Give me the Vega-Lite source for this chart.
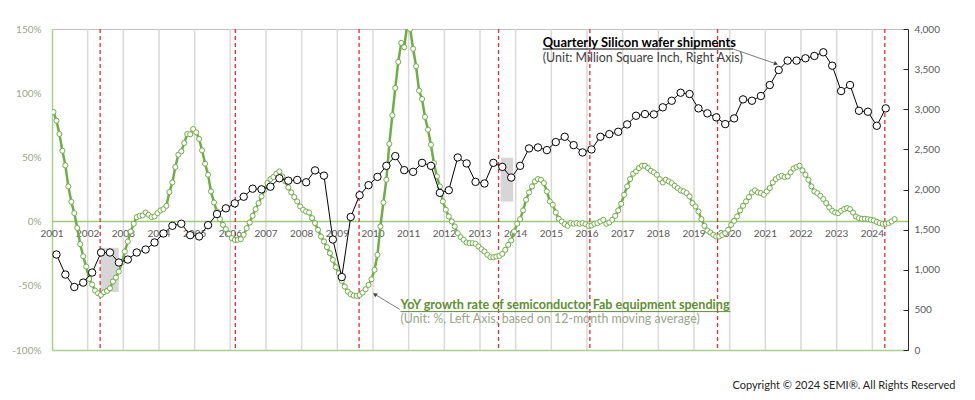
{
"$schema":"https://vega.github.io/schema/vega-lite/v6.json",
"width":856,"height":321,
"autosize":{"type":"none"},
"padding":{"left":52,"top":29,"right":67,"bottom":50},
"background":"white",
"config":{"font":"Lato","view":{"stroke":"#bfbfbf","strokeWidth":1}},
"title":{"text":"Copyright © 2024 SEMI®. All Rights Reserved","orient":"bottom","anchor":"end","fontSize":11,"fontWeight":"normal","color":"#262626","offset":25,"dx":16,"font":"Lato"},
"datasets":{
"years":[{"t":2001},{"t":2002},{"t":2003},{"t":2004},{"t":2005},{"t":2006},{"t":2007},{"t":2008},{"t":2009},{"t":2010},{"t":2011},{"t":2012},{"t":2013},{"t":2014},{"t":2015},{"t":2016},{"t":2017},{"t":2018},{"t":2019},{"t":2020},{"t":2021},{"t":2022},{"t":2023},{"t":2024}],
"fab":[
{"t":2001.042,"v":85.4},{"t":2001.125,"v":78.6},{"t":2001.208,"v":68.2},{"t":2001.292,"v":55.2},{"t":2001.375,"v":43.8},{"t":2001.458,"v":27.4},{"t":2001.542,"v":15.4},{"t":2001.625,"v":6.6},{"t":2001.708,"v":-5},{"t":2001.792,"v":-17.6},{"t":2001.875,"v":-27},{"t":2001.958,"v":-35},
{"t":2002.042,"v":-44.6},{"t":2002.125,"v":-49},{"t":2002.208,"v":-53.7},{"t":2002.292,"v":-55.8},{"t":2002.375,"v":-57.1},{"t":2002.458,"v":-55},{"t":2002.542,"v":-54},{"t":2002.625,"v":-51.9},{"t":2002.708,"v":-46.7},{"t":2002.792,"v":-43.6},{"t":2002.875,"v":-38.9},{"t":2002.958,"v":-31.9},
{"t":2003.042,"v":-23.3},{"t":2003.125,"v":-15.5},{"t":2003.208,"v":-7.7},{"t":2003.292,"v":-1.7},{"t":2003.375,"v":3.5},{"t":2003.458,"v":4.5},{"t":2003.542,"v":4.8},{"t":2003.625,"v":7.1},{"t":2003.708,"v":5.3},{"t":2003.792,"v":3.5},{"t":2003.875,"v":4},{"t":2003.958,"v":6.6},
{"t":2004.042,"v":8.7},{"t":2004.125,"v":9.7},{"t":2004.208,"v":12.3},{"t":2004.292,"v":23},{"t":2004.375,"v":30.5},{"t":2004.458,"v":42.5},{"t":2004.542,"v":52.1},{"t":2004.625,"v":54.7},{"t":2004.708,"v":61.2},{"t":2004.792,"v":68.2},{"t":2004.875,"v":68},{"t":2004.958,"v":72.1},
{"t":2005.042,"v":69.5},{"t":2005.125,"v":64.4},{"t":2005.208,"v":55.5},{"t":2005.292,"v":45.1},{"t":2005.375,"v":36.5},{"t":2005.458,"v":23.5},{"t":2005.542,"v":14.9},{"t":2005.625,"v":7.9},{"t":2005.708,"v":1.9},{"t":2005.792,"v":-2.5},{"t":2005.875,"v":-5.9},{"t":2005.958,"v":-9.5},
{"t":2006.042,"v":-12.9},{"t":2006.125,"v":-14.2},{"t":2006.208,"v":-14.2},{"t":2006.292,"v":-13.7},{"t":2006.375,"v":-10.3},{"t":2006.458,"v":-5.1},{"t":2006.542,"v":-0.7},{"t":2006.625,"v":4.5},{"t":2006.708,"v":9.7},{"t":2006.792,"v":14.4},{"t":2006.875,"v":19.6},{"t":2006.958,"v":24.8},
{"t":2007.042,"v":30},{"t":2007.125,"v":33.1},{"t":2007.208,"v":34.7},{"t":2007.292,"v":37.3},{"t":2007.375,"v":39.1},{"t":2007.458,"v":35.2},{"t":2007.542,"v":31.3},{"t":2007.625,"v":26.6},{"t":2007.708,"v":22.7},{"t":2007.792,"v":19.1},{"t":2007.875,"v":15.7},{"t":2007.958,"v":11.8},
{"t":2008.042,"v":9.2},{"t":2008.125,"v":7.9},{"t":2008.208,"v":7.1},{"t":2008.292,"v":2.7},{"t":2008.375,"v":-1.2},{"t":2008.458,"v":-6.4},{"t":2008.542,"v":-11.6},{"t":2008.625,"v":-15.5},{"t":2008.708,"v":-19.9},{"t":2008.792,"v":-24.6},{"t":2008.875,"v":-29.8},{"t":2008.958,"v":-35.5},
{"t":2009.042,"v":-40.2},{"t":2009.125,"v":-46.2},{"t":2009.208,"v":-50.6},{"t":2009.292,"v":-54.5},{"t":2009.375,"v":-56.6},{"t":2009.458,"v":-57.6},{"t":2009.542,"v":-57.9},{"t":2009.625,"v":-57.1},{"t":2009.708,"v":-55.3},{"t":2009.792,"v":-52.7},{"t":2009.875,"v":-49.3},{"t":2009.958,"v":-44.9},
{"t":2010.042,"v":-37.6},{"t":2010.125,"v":-25.9},{"t":2010.208,"v":-3.8},{"t":2010.292,"v":14.9},{"t":2010.375,"v":32.6},{"t":2010.458,"v":60.5},{"t":2010.542,"v":82.8},{"t":2010.625,"v":104.1},{"t":2010.708,"v":124.4},{"t":2010.792,"v":139.2},{"t":2010.875,"v":135.8},{"t":2010.958,"v":153},
{"t":2011.042,"v":150},{"t":2011.125,"v":134.6},{"t":2011.208,"v":121},{"t":2011.292,"v":102},{"t":2011.375,"v":95.5},{"t":2011.458,"v":81.5},{"t":2011.542,"v":71.6},{"t":2011.625,"v":59.9},{"t":2011.708,"v":45.6},{"t":2011.792,"v":35.2},{"t":2011.875,"v":27.4},{"t":2011.958,"v":15.7},
{"t":2012.042,"v":9.2},{"t":2012.125,"v":4},{"t":2012.208,"v":0.1},{"t":2012.292,"v":-3.8},{"t":2012.375,"v":-9},{"t":2012.458,"v":-12.1},{"t":2012.542,"v":-14.2},{"t":2012.625,"v":-16.3},{"t":2012.708,"v":-16.8},{"t":2012.792,"v":-16.8},{"t":2012.875,"v":-17.3},{"t":2012.958,"v":-19.4},
{"t":2013.042,"v":-21.5},{"t":2013.125,"v":-23.3},{"t":2013.208,"v":-25.9},{"t":2013.292,"v":-27.7},{"t":2013.375,"v":-27.7},{"t":2013.458,"v":-27.2},{"t":2013.542,"v":-26.7},{"t":2013.625,"v":-25.1},{"t":2013.708,"v":-22},{"t":2013.792,"v":-18.1},{"t":2013.875,"v":-14.7},{"t":2013.958,"v":-7.7},
{"t":2014.042,"v":-1.7},{"t":2014.125,"v":1.9},{"t":2014.208,"v":8.7},{"t":2014.292,"v":17},{"t":2014.375,"v":22.7},{"t":2014.458,"v":27.4},{"t":2014.542,"v":31.3},{"t":2014.625,"v":33.1},{"t":2014.708,"v":32.6},{"t":2014.792,"v":30},{"t":2014.875,"v":23.5},{"t":2014.958,"v":15.7},
{"t":2015.042,"v":13.1},{"t":2015.125,"v":7.1},{"t":2015.208,"v":2.2},{"t":2015.292,"v":0.1},{"t":2015.375,"v":-2},{"t":2015.458,"v":-3.3},{"t":2015.542,"v":-1.2},{"t":2015.625,"v":-1.7},{"t":2015.708,"v":-1.2},{"t":2015.792,"v":-1.7},{"t":2015.875,"v":-1.2},{"t":2015.958,"v":-2},
{"t":2016.042,"v":-3.3},{"t":2016.125,"v":-3},{"t":2016.208,"v":-1.7},{"t":2016.292,"v":-1.2},{"t":2016.375,"v":0.1},{"t":2016.458,"v":1.4},{"t":2016.542,"v":-1.7},{"t":2016.625,"v":-0.7},{"t":2016.708,"v":1.4},{"t":2016.792,"v":4.5},{"t":2016.875,"v":8.7},{"t":2016.958,"v":13.9},
{"t":2017.042,"v":20.9},{"t":2017.125,"v":27.4},{"t":2017.208,"v":33.1},{"t":2017.292,"v":37.3},{"t":2017.375,"v":39.1},{"t":2017.458,"v":41.7},{"t":2017.542,"v":43.5},{"t":2017.625,"v":43.5},{"t":2017.708,"v":41.7},{"t":2017.792,"v":39.6},{"t":2017.875,"v":38.3},{"t":2017.958,"v":36.5},
{"t":2018.042,"v":33.1},{"t":2018.125,"v":30.5},{"t":2018.208,"v":32.6},{"t":2018.292,"v":31.3},{"t":2018.375,"v":30},{"t":2018.458,"v":27.9},{"t":2018.542,"v":26.1},{"t":2018.625,"v":24.3},{"t":2018.708,"v":23.5},{"t":2018.792,"v":22.2},{"t":2018.875,"v":19.6},{"t":2018.958,"v":14.4},
{"t":2019.042,"v":11.8},{"t":2019.125,"v":7.9},{"t":2019.208,"v":1.9},{"t":2019.292,"v":-3.3},{"t":2019.375,"v":-6.9},{"t":2019.458,"v":-8.5},{"t":2019.542,"v":-10.3},{"t":2019.625,"v":-11.6},{"t":2019.708,"v":-11.6},{"t":2019.792,"v":-10.5},{"t":2019.875,"v":-9},{"t":2019.958,"v":-6.4},
{"t":2020.042,"v":-2.5},{"t":2020.125,"v":0.6},{"t":2020.208,"v":4},{"t":2020.292,"v":8.7},{"t":2020.375,"v":12.3},{"t":2020.458,"v":15.7},{"t":2020.542,"v":19.1},{"t":2020.625,"v":22.7},{"t":2020.708,"v":24.3},{"t":2020.792,"v":22.7},{"t":2020.875,"v":22.2},{"t":2020.958,"v":20.9},
{"t":2021.042,"v":23.5},{"t":2021.125,"v":26.1},{"t":2021.208,"v":30.5},{"t":2021.292,"v":33.1},{"t":2021.375,"v":34.7},{"t":2021.458,"v":35.7},{"t":2021.542,"v":34.7},{"t":2021.625,"v":35.2},{"t":2021.708,"v":38.3},{"t":2021.792,"v":41.4},{"t":2021.875,"v":42.5},{"t":2021.958,"v":43.5},
{"t":2022.042,"v":39.9},{"t":2022.125,"v":36.5},{"t":2022.208,"v":32.6},{"t":2022.292,"v":27.4},{"t":2022.375,"v":23.5},{"t":2022.458,"v":22.2},{"t":2022.542,"v":20.1},{"t":2022.625,"v":17.5},{"t":2022.708,"v":14.4},{"t":2022.792,"v":11},{"t":2022.875,"v":8.4},{"t":2022.958,"v":7.1},
{"t":2023.042,"v":6.6},{"t":2023.125,"v":8.4},{"t":2023.208,"v":9.7},{"t":2023.292,"v":10.5},{"t":2023.375,"v":9.7},{"t":2023.458,"v":7.1},{"t":2023.542,"v":4},{"t":2023.625,"v":2.7},{"t":2023.708,"v":2.2},{"t":2023.792,"v":2.2},{"t":2023.875,"v":1.9},{"t":2023.958,"v":1.4},
{"t":2024.042,"v":0.9},{"t":2024.125,"v":-0.2},{"t":2024.208,"v":-1.2},{"t":2024.292,"v":-1.7},{"t":2024.375,"v":-1.7},{"t":2024.458,"v":-1.2},{"t":2024.542,"v":0.1},{"t":2024.625,"v":1.9}
],
"wafer":[
{"t":2001.125,"v":1190},{"t":2001.375,"v":940},{"t":2001.625,"v":785},{"t":2001.875,"v":840},
{"t":2002.125,"v":965},{"t":2002.375,"v":1215},{"t":2002.625,"v":1215},{"t":2002.875,"v":1090},
{"t":2003.125,"v":1127},{"t":2003.375,"v":1215},{"t":2003.625,"v":1252},{"t":2003.875,"v":1340},
{"t":2004.125,"v":1452},{"t":2004.375,"v":1548},{"t":2004.625,"v":1573},{"t":2004.875,"v":1431},
{"t":2005.125,"v":1415},{"t":2005.375,"v":1556},{"t":2005.625,"v":1694},{"t":2005.875,"v":1765},
{"t":2006.125,"v":1827},{"t":2006.375,"v":1910},{"t":2006.625,"v":2010},{"t":2006.875,"v":2002},
{"t":2007.125,"v":2035},{"t":2007.375,"v":2140},{"t":2007.625,"v":2110},{"t":2007.875,"v":2119},
{"t":2008.125,"v":2090},{"t":2008.375,"v":2238},{"t":2008.625,"v":2173},{"t":2008.875,"v":1377},
{"t":2009.125,"v":909},{"t":2009.375,"v":1658},{"t":2009.625,"v":1929},{"t":2009.875,"v":2054},
{"t":2010.125,"v":2157},{"t":2010.375,"v":2295},{"t":2010.625,"v":2416},{"t":2010.875,"v":2241},
{"t":2011.125,"v":2220},{"t":2011.375,"v":2332},{"t":2011.625,"v":2295},{"t":2011.875,"v":1958},
{"t":2012.125,"v":1991},{"t":2012.375,"v":2399},{"t":2012.625,"v":2325},{"t":2012.875,"v":2095},
{"t":2013.125,"v":2075},{"t":2013.375,"v":2332},{"t":2013.625,"v":2282},{"t":2013.875,"v":2149},
{"t":2014.125,"v":2295},{"t":2014.375,"v":2512},{"t":2014.625,"v":2524},{"t":2014.875,"v":2491},
{"t":2015.125,"v":2591},{"t":2015.375,"v":2657},{"t":2015.625,"v":2553},{"t":2015.875,"v":2462},
{"t":2016.125,"v":2499},{"t":2016.375,"v":2657},{"t":2016.625,"v":2690},{"t":2016.875,"v":2719},
{"t":2017.125,"v":2811},{"t":2017.375,"v":2919},{"t":2017.625,"v":2940},{"t":2017.875,"v":2936},
{"t":2018.125,"v":3024},{"t":2018.375,"v":3106},{"t":2018.625,"v":3206},{"t":2018.875,"v":3190},
{"t":2019.125,"v":3011},{"t":2019.375,"v":2949},{"t":2019.625,"v":2899},{"t":2019.875,"v":2815},
{"t":2020.125,"v":2886},{"t":2020.375,"v":3123},{"t":2020.625,"v":3106},{"t":2020.875,"v":3165},
{"t":2021.125,"v":3302},{"t":2021.375,"v":3489},{"t":2021.625,"v":3606},{"t":2021.875,"v":3606},
{"t":2022.125,"v":3635},{"t":2022.375,"v":3664},{"t":2022.625,"v":3710},{"t":2022.875,"v":3543},
{"t":2023.125,"v":3227},{"t":2023.375,"v":3302},{"t":2023.625,"v":2981},{"t":2023.875,"v":2969},
{"t":2024.125,"v":2794},{"t":2024.375,"v":3011}
]
},
"layer":[
{"layer":[
{"data":{"name":"years"},"transform":[{"filter":"datum.t > 2001"}],"mark":{"type":"rule","color":"#d9d9d9","strokeWidth":1.5},
 "encoding":{"x":{"field":"t","type":"quantitative","scale":{"domain":[2001,2025],"nice":false,"zero":false},"axis":{"orient":"bottom","labels":false,"ticks":false,"grid":false,"title":null,"domainColor":"#a9d08e","domainWidth":1.5}}}},
{"data":{"values":[{"t":2002.36,"t2":2002.87,"v":-20.4,"v2":-54.8},{"t":2013.58,"t2":2013.93,"v":49.8,"v2":15.6}]},"mark":{"type":"rect","color":"#d6d6d6"},
 "encoding":{"x":{"field":"t","type":"quantitative","scale":{"domain":[2001,2025],"nice":false,"zero":false},"axis":{"orient":"bottom","labels":false,"ticks":false,"grid":false,"title":null,"domainColor":"#a9d08e","domainWidth":1.5}},"x2":{"field":"t2"},
  "y":{"field":"v","type":"quantitative","scale":{"domain":[-100,150],"nice":false,"zero":false},"axis":{"orient":"left","values":[-100,-50,0,50,100,150],"labelExpr":"datum.value + '%'","title":null,"grid":false,"ticks":false,"domainColor":"#a9d08e","domainWidth":1.5,"labelPadding":11,"labelColor":"#9aa58a","labelFontSize":10,"labelFont":"Lato"}},"y2":{"field":"v2"}}},
{"data":{"values":[{"v":0}]},"mark":{"type":"rule","color":"#9cc97a","strokeWidth":1.5},
 "encoding":{"y":{"field":"v","type":"quantitative","scale":{"domain":[-100,150],"nice":false,"zero":false},"axis":{"orient":"left","values":[-100,-50,0,50,100,150],"labelExpr":"datum.value + '%'","title":null,"grid":false,"ticks":false,"domainColor":"#a9d08e","domainWidth":1.5,"labelPadding":11,"labelColor":"#9aa58a","labelFontSize":10,"labelFont":"Lato"}}}},
{"data":{"values":[{"t":2002.35},{"t":2006.14},{"t":2009.61},{"t":2013.52},{"t":2016.08},{"t":2019.66},{"t":2024.35}]},"mark":{"type":"rule","color":"#e0303a","strokeWidth":1.3,"strokeDash":[4,3]},
 "encoding":{"x":{"field":"t","type":"quantitative","scale":{"domain":[2001,2025],"nice":false,"zero":false},"axis":{"orient":"bottom","labels":false,"ticks":false,"grid":false,"title":null,"domainColor":"#a9d08e","domainWidth":1.5}}}},
{"data":{"name":"years"},"mark":{"type":"text","fontSize":10,"color":"#595959","dy":15.5,"baseline":"alphabetic","font":"Lato"},
 "encoding":{"x":{"field":"t","type":"quantitative","scale":{"domain":[2001,2025],"nice":false,"zero":false},"axis":{"orient":"bottom","labels":false,"ticks":false,"grid":false,"title":null,"domainColor":"#a9d08e","domainWidth":1.5}},
  "y":{"datum":0,"type":"quantitative","scale":{"domain":[-100,150],"nice":false,"zero":false},"axis":{"orient":"left","values":[-100,-50,0,50,100,150],"labelExpr":"datum.value + '%'","title":null,"grid":false,"ticks":false,"domainColor":"#a9d08e","domainWidth":1.5,"labelPadding":11,"labelColor":"#9aa58a","labelFontSize":10,"labelFont":"Lato"}},
  "text":{"field":"t","type":"quantitative","format":"d"}}},
{"data":{"name":"fab"},"mark":{"type":"line","color":"#70ad47","strokeWidth":2.5,"clip":true},
 "encoding":{"x":{"field":"t","type":"quantitative","scale":{"domain":[2001,2025],"nice":false,"zero":false},"axis":{"orient":"bottom","labels":false,"ticks":false,"grid":false,"title":null,"domainColor":"#a9d08e","domainWidth":1.5}},
  "y":{"field":"v","type":"quantitative","scale":{"domain":[-100,150],"nice":false,"zero":false},"axis":{"orient":"left","values":[-100,-50,0,50,100,150],"labelExpr":"datum.value + '%'","title":null,"grid":false,"ticks":false,"domainColor":"#a9d08e","domainWidth":1.5,"labelPadding":11,"labelColor":"#9aa58a","labelFontSize":10,"labelFont":"Lato"}}}},
{"data":{"name":"fab"},"mark":{"type":"point","shape":"circle","filled":true,"fill":"white","stroke":"#70ad47","strokeWidth":1,"size":26,"opacity":1,"clip":true},
 "encoding":{"x":{"field":"t","type":"quantitative","scale":{"domain":[2001,2025],"nice":false,"zero":false},"axis":{"orient":"bottom","labels":false,"ticks":false,"grid":false,"title":null,"domainColor":"#a9d08e","domainWidth":1.5}},
  "y":{"field":"v","type":"quantitative","scale":{"domain":[-100,150],"nice":false,"zero":false},"axis":{"orient":"left","values":[-100,-50,0,50,100,150],"labelExpr":"datum.value + '%'","title":null,"grid":false,"ticks":false,"domainColor":"#a9d08e","domainWidth":1.5,"labelPadding":11,"labelColor":"#9aa58a","labelFontSize":10,"labelFont":"Lato"}}}},
{"data":{"values":[{"t":2014.76,"t2":2020.1,"v":134.4}]},"mark":{"type":"rule","color":"#000000","strokeWidth":1},
 "encoding":{"x":{"field":"t","type":"quantitative","scale":{"domain":[2001,2025],"nice":false,"zero":false},"axis":{"orient":"bottom","labels":false,"ticks":false,"grid":false,"title":null,"domainColor":"#a9d08e","domainWidth":1.5}},"x2":{"field":"t2"},
  "y":{"field":"v","type":"quantitative","scale":{"domain":[-100,150],"nice":false,"zero":false},"axis":{"orient":"left","values":[-100,-50,0,50,100,150],"labelExpr":"datum.value + '%'","title":null,"grid":false,"ticks":false,"domainColor":"#a9d08e","domainWidth":1.5,"labelPadding":11,"labelColor":"#9aa58a","labelFontSize":10,"labelFont":"Lato"}}}},
{"data":{"values":[{"t":2010.77,"t2":2020.02,"v":-70.1}]},"mark":{"type":"rule","color":"#5f8f35","strokeWidth":1},
 "encoding":{"x":{"field":"t","type":"quantitative","scale":{"domain":[2001,2025],"nice":false,"zero":false},"axis":{"orient":"bottom","labels":false,"ticks":false,"grid":false,"title":null,"domainColor":"#a9d08e","domainWidth":1.5}},"x2":{"field":"t2"},
  "y":{"field":"v","type":"quantitative","scale":{"domain":[-100,150],"nice":false,"zero":false},"axis":{"orient":"left","values":[-100,-50,0,50,100,150],"labelExpr":"datum.value + '%'","title":null,"grid":false,"ticks":false,"domainColor":"#a9d08e","domainWidth":1.5,"labelPadding":11,"labelColor":"#9aa58a","labelFontSize":10,"labelFont":"Lato"}}}},
{"data":{"values":[{"a":1,"t":2020.1,"v":134.4},{"a":1,"t":2021.3,"v":122.9},{"a":2,"t":2010.75,"v":-68.4},{"a":2,"t":2010.05,"v":-56.6}]},"mark":{"type":"line","color":"#595959","strokeWidth":0.8},
 "encoding":{"detail":{"field":"a","type":"nominal"},"x":{"field":"t","type":"quantitative","scale":{"domain":[2001,2025],"nice":false,"zero":false},"axis":{"orient":"bottom","labels":false,"ticks":false,"grid":false,"title":null,"domainColor":"#a9d08e","domainWidth":1.5}},
  "y":{"field":"v","type":"quantitative","scale":{"domain":[-100,150],"nice":false,"zero":false},"axis":{"orient":"left","values":[-100,-50,0,50,100,150],"labelExpr":"datum.value + '%'","title":null,"grid":false,"ticks":false,"domainColor":"#a9d08e","domainWidth":1.5,"labelPadding":11,"labelColor":"#9aa58a","labelFontSize":10,"labelFont":"Lato"}}}},
{"data":{"values":[{"t":2021.3,"v":122.9}]},"mark":{"type":"point","shape":"triangle-right","angle":20,"filled":true,"color":"#404040","size":22,"opacity":1},
 "encoding":{"x":{"field":"t","type":"quantitative","scale":{"domain":[2001,2025],"nice":false,"zero":false},"axis":{"orient":"bottom","labels":false,"ticks":false,"grid":false,"title":null,"domainColor":"#a9d08e","domainWidth":1.5}},
  "y":{"field":"v","type":"quantitative","scale":{"domain":[-100,150],"nice":false,"zero":false},"axis":{"orient":"left","values":[-100,-50,0,50,100,150],"labelExpr":"datum.value + '%'","title":null,"grid":false,"ticks":false,"domainColor":"#a9d08e","domainWidth":1.5,"labelPadding":11,"labelColor":"#9aa58a","labelFontSize":10,"labelFont":"Lato"}}}},
{"data":{"values":[{"t":2010.05,"v":-56.6}]},"mark":{"type":"point","shape":"triangle-right","angle":213,"filled":true,"color":"#404040","size":22,"opacity":1},
 "encoding":{"x":{"field":"t","type":"quantitative","scale":{"domain":[2001,2025],"nice":false,"zero":false},"axis":{"orient":"bottom","labels":false,"ticks":false,"grid":false,"title":null,"domainColor":"#a9d08e","domainWidth":1.5}},
  "y":{"field":"v","type":"quantitative","scale":{"domain":[-100,150],"nice":false,"zero":false},"axis":{"orient":"left","values":[-100,-50,0,50,100,150],"labelExpr":"datum.value + '%'","title":null,"grid":false,"ticks":false,"domainColor":"#a9d08e","domainWidth":1.5,"labelPadding":11,"labelColor":"#9aa58a","labelFontSize":10,"labelFont":"Lato"}}}},
{"data":{"values":[{"t":2014.76,"v":136.1,"s":"Quarterly Silicon wafer shipments"}]},"mark":{"type":"text","align":"left","baseline":"alphabetic","fontSize":12.9,"fontWeight":"bold","color":"#000000","font":"Lato"},
 "encoding":{"x":{"field":"t","type":"quantitative","scale":{"domain":[2001,2025],"nice":false,"zero":false},"axis":{"orient":"bottom","labels":false,"ticks":false,"grid":false,"title":null,"domainColor":"#a9d08e","domainWidth":1.5}},
  "y":{"field":"v","type":"quantitative","scale":{"domain":[-100,150],"nice":false,"zero":false},"axis":{"orient":"left","values":[-100,-50,0,50,100,150],"labelExpr":"datum.value + '%'","title":null,"grid":false,"ticks":false,"domainColor":"#a9d08e","domainWidth":1.5,"labelPadding":11,"labelColor":"#9aa58a","labelFontSize":10,"labelFont":"Lato"}},"text":{"field":"s"}}},
{"data":{"values":[{"t":2014.76,"v":124.4,"s":"(Unit: Million Square Inch, Right Axis)"}]},"mark":{"type":"text","align":"left","baseline":"alphabetic","fontSize":12.4,"color":"#404040","font":"Lato"},
 "encoding":{"x":{"field":"t","type":"quantitative","scale":{"domain":[2001,2025],"nice":false,"zero":false},"axis":{"orient":"bottom","labels":false,"ticks":false,"grid":false,"title":null,"domainColor":"#a9d08e","domainWidth":1.5}},
  "y":{"field":"v","type":"quantitative","scale":{"domain":[-100,150],"nice":false,"zero":false},"axis":{"orient":"left","values":[-100,-50,0,50,100,150],"labelExpr":"datum.value + '%'","title":null,"grid":false,"ticks":false,"domainColor":"#a9d08e","domainWidth":1.5,"labelPadding":11,"labelColor":"#9aa58a","labelFontSize":10,"labelFont":"Lato"}},"text":{"field":"s"}}},
{"data":{"values":[{"t":2010.77,"v":-68,"s":"YoY growth rate of semiconductor Fab equipment spending"}]},"mark":{"type":"text","align":"left","baseline":"alphabetic","fontSize":12.6,"fontWeight":"bold","color":"#5f8f35","font":"Lato"},
 "encoding":{"x":{"field":"t","type":"quantitative","scale":{"domain":[2001,2025],"nice":false,"zero":false},"axis":{"orient":"bottom","labels":false,"ticks":false,"grid":false,"title":null,"domainColor":"#a9d08e","domainWidth":1.5}},
  "y":{"field":"v","type":"quantitative","scale":{"domain":[-100,150],"nice":false,"zero":false},"axis":{"orient":"left","values":[-100,-50,0,50,100,150],"labelExpr":"datum.value + '%'","title":null,"grid":false,"ticks":false,"domainColor":"#a9d08e","domainWidth":1.5,"labelPadding":11,"labelColor":"#9aa58a","labelFontSize":10,"labelFont":"Lato"}},"text":{"field":"s"}}},
{"data":{"values":[{"t":2010.77,"v":-79.2,"s":"(Unit: %, Left Axis, based on 12-month moving average)"}]},"mark":{"type":"text","align":"left","baseline":"alphabetic","fontSize":12.4,"color":"#9aa58a","font":"Lato"},
 "encoding":{"x":{"field":"t","type":"quantitative","scale":{"domain":[2001,2025],"nice":false,"zero":false},"axis":{"orient":"bottom","labels":false,"ticks":false,"grid":false,"title":null,"domainColor":"#a9d08e","domainWidth":1.5}},
  "y":{"field":"v","type":"quantitative","scale":{"domain":[-100,150],"nice":false,"zero":false},"axis":{"orient":"left","values":[-100,-50,0,50,100,150],"labelExpr":"datum.value + '%'","title":null,"grid":false,"ticks":false,"domainColor":"#a9d08e","domainWidth":1.5,"labelPadding":11,"labelColor":"#9aa58a","labelFontSize":10,"labelFont":"Lato"}},"text":{"field":"s"}}}
]},
{"layer":[
{"data":{"name":"wafer"},"mark":{"type":"line","color":"#000000","strokeWidth":1},
 "encoding":{"x":{"field":"t","type":"quantitative","scale":{"domain":[2001,2025],"nice":false,"zero":false},"axis":{"orient":"bottom","labels":false,"ticks":false,"grid":false,"title":null,"domainColor":"#a9d08e","domainWidth":1.5}},
  "y":{"field":"v","type":"quantitative","scale":{"domain":[0,4000],"nice":false},"axis":{"orient":"right","values":[0,500,1000,1500,2000,2500,3000,3500,4000],"format":",d","title":null,"grid":false,"domainColor":"#262626","tickColor":"#262626","tickSize":-5,"labelPadding":11,"labelColor":"#595959","labelFontSize":10,"labelFont":"Lato"}}}},
{"data":{"name":"wafer"},"mark":{"type":"point","shape":"circle","filled":true,"fill":"white","stroke":"#000000","strokeWidth":1,"size":55,"opacity":1},
 "encoding":{"x":{"field":"t","type":"quantitative","scale":{"domain":[2001,2025],"nice":false,"zero":false},"axis":{"orient":"bottom","labels":false,"ticks":false,"grid":false,"title":null,"domainColor":"#a9d08e","domainWidth":1.5}},
  "y":{"field":"v","type":"quantitative","scale":{"domain":[0,4000],"nice":false},"axis":{"orient":"right","values":[0,500,1000,1500,2000,2500,3000,3500,4000],"format":",d","title":null,"grid":false,"domainColor":"#262626","tickColor":"#262626","tickSize":-5,"labelPadding":11,"labelColor":"#595959","labelFontSize":10,"labelFont":"Lato"}}}}
]}
],
"resolve":{"scale":{"y":"independent"}}
}
